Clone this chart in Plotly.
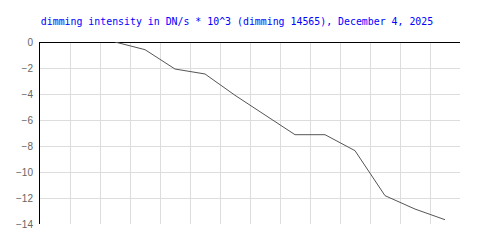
import plotly.graph_objects as go

x_vals = [2.5, 3.5, 4.5, 5.5, 6.5, 7.5, 8.5, 9.5, 10.5, 11.5, 12.5, 13.5]
y_vals = [0, -0.59, -2.08, -2.46, -4.1, -5.6, -7.13, -7.13, -8.36, -11.82, -12.85, -13.67]
y_ticks = [0, -2, -4, -6, -8, -10, -12, -14]
title_text = "dimming intensity in DN/s * 10^3 (dimming 14565), December 4, 2025"

fig = go.Figure()
fig.add_trace(go.Scatter(x=x_vals, y=y_vals, mode="lines",
                         line=dict(color="#555555", width=1), hoverinfo="skip"))

fig.update_layout(
    width=500, height=250,
    margin=dict(l=40, r=40, t=42, b=26),
    paper_bgcolor="white", plot_bgcolor="white",
    showlegend=False,
    title=dict(text=title_text, x=0.474, xref="container", xanchor="center",
               y=1 - 22 / 250, yref="container", yanchor="middle",
               font=dict(family="DejaVu Sans Mono", size=9.9, color="#0000ff")),
)
fig.update_xaxes(range=[0, 14], dtick=1, tick0=0, showgrid=True, gridcolor="#dddddd",
                 gridwidth=1, showticklabels=False, zeroline=False, showline=False,
                 ticks="")
fig.update_yaxes(range=[-14, 0], tickvals=y_ticks, showgrid=True, gridcolor="#dddddd",
                 gridwidth=1, zeroline=True, zerolinecolor="black", zerolinewidth=1,
                 showline=True, linecolor="black", linewidth=1, ticks="",
                 ticklabelstandoff=4,
                 tickfont=dict(family="Liberation Sans", size=10, color="#666666"))

fig.write_html("out.html")
